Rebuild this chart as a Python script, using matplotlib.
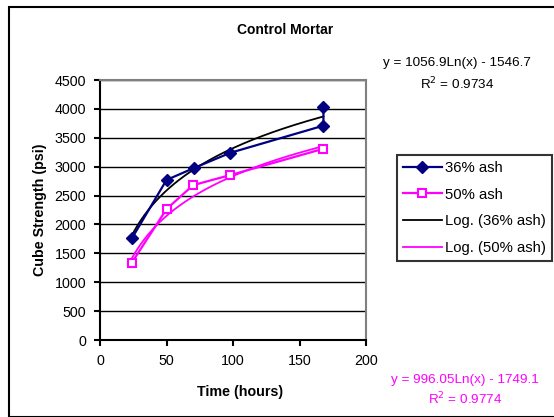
import numpy as np
import matplotlib
matplotlib.use("Agg")
import matplotlib.pyplot as plt
from matplotlib.patches import Rectangle

plt.rcParams['font.family'] = ['Liberation Sans', 'DejaVu Sans']

# Data
time_36 = [24, 50, 71, 98, 168, 168]
strength_36 = [1760, 2770, 2980, 3240, 3710, 4030]
time_50 = [24, 50, 70, 98, 168]
strength_50 = [1340, 2265, 2680, 2855, 3310]

# Trendline coefficients (shown on chart)
a36, b36, r2_36 = 1056.9, -1546.7, 0.9734
a50, b50, r2_50 = 996.05, -1749.1, 0.9774

x_ticks = [0, 50, 100, 150, 200]
y_ticks = list(range(0, 4501, 500))

W, H = 554, 417
fig = plt.figure(figsize=(W / 100, H / 100), dpi=100)

# outer chart border
fig.patches.append(Rectangle((9 / W, 0), (W - 9) / W + 0.01, 1 - 7 / H,
                             transform=fig.transFigure, fill=False,
                             edgecolor='black', linewidth=1.5, clip_on=False))

ax = fig.add_axes([100 / W, (H - 340) / H, 266 / W, 260 / H])

xt = np.linspace(24, 168, 200)
ax.plot(time_36, strength_36, color='#000080', marker='D', markersize=6.5,
        linewidth=1.6, label='36% ash', zorder=4)
ax.plot(time_50, strength_50, color='#FF00FF', marker='s', markersize=6,
        markerfacecolor='white', markeredgewidth=1.5, linewidth=1.6,
        label='50% ash', zorder=4)
ax.plot(xt, a36 * np.log(xt) + b36, color='black', linewidth=1.3,
        label='Log. (36% ash)', zorder=3)
ax.plot(xt, a50 * np.log(xt) + b50, color='#FF00FF', linewidth=1.3,
        label='Log. (50% ash)', zorder=3)

ax.set_xlim(0, 200)
ax.set_ylim(0, 4500)
ax.set_xticks(x_ticks)
ax.set_yticks(y_ticks)
ax.yaxis.grid(True, color='black', linewidth=1)
ax.set_axisbelow(True)
for s in ['top', 'right']:
    ax.spines[s].set_color('#808080')
    ax.spines[s].set_linewidth(1.5)
for s in ['left', 'bottom']:
    ax.spines[s].set_color('black')
    ax.spines[s].set_linewidth(1.5)
ax.tick_params(direction='out', length=4, width=1.5, labelsize=10.3, pad=6)

fig.text(285 / W, 1 - 30 / H, 'Control Mortar', ha='center', va='center',
         fontsize=10, fontweight='bold')
fig.text(240 / W, 1 - 392 / H, 'Time (hours)', ha='center', va='center',
         fontsize=10.3, fontweight='bold')
fig.text(40 / W, 1 - 210 / H, 'Cube Strength (psi)', ha='center', va='center',
         fontsize=10.3, fontweight='bold', rotation=90)

fig.text(457 / W, 1 - 63 / H, f'y = {a36}Ln(x) - {abs(b36)}', ha='center',
         va='center', fontsize=9.7)
fig.text(457 / W, 1 - 84 / H, f'R$^2$ = {r2_36}', ha='center', va='center',
         fontsize=9.7)
fig.text(465 / W, 1 - 380 / H, f'y = {a50}Ln(x) - {abs(b50)}', ha='center',
         va='center', fontsize=9.7, color='#FF00FF')
fig.text(465 / W, 1 - 399 / H, f'R$^2$ = {r2_50}', ha='center', va='center',
         fontsize=9.7, color='#FF00FF')

leg = fig.legend(loc='upper left', bbox_to_anchor=(397 / W, 1 - 155 / H),
                 bbox_transform=fig.transFigure, fontsize=10.7, frameon=True,
                 fancybox=False, edgecolor='black', handlelength=2.6,
                 borderpad=0.4, labelspacing=0.85, handletextpad=0.25,
                 borderaxespad=0)
leg.get_frame().set_linewidth(1.5)

fig.savefig('out.png', dpi=100)
